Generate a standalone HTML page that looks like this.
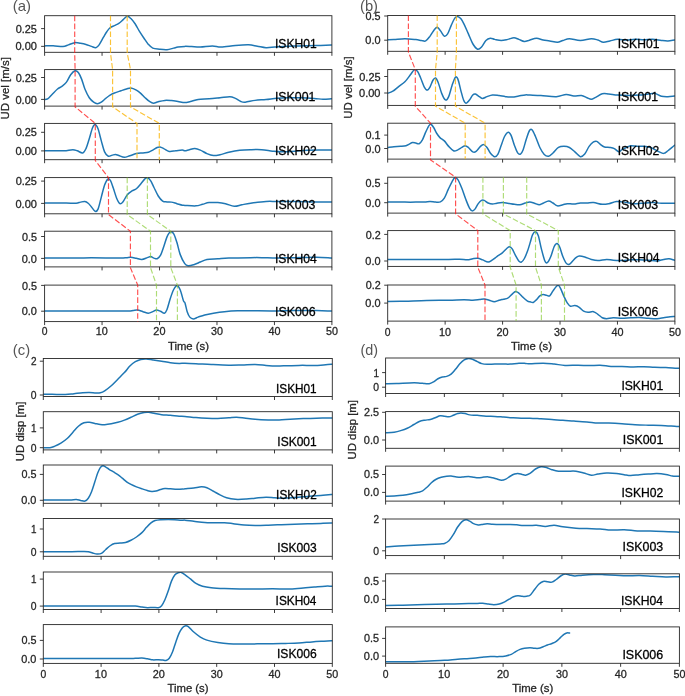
<!DOCTYPE html>
<html><head><meta charset="utf-8"><style>
html,body{margin:0;padding:0;background:#fff;}
body{width:685px;height:696px;overflow:hidden;}
svg{display:block;will-change:transform;}
</style></head><body>
<svg width="685" height="696" viewBox="0 0 685 696">
<rect width="685" height="696" fill="#fff"/>
<clipPath id="ca0"><rect x="44.60" y="15.70" width="287.30" height="36.60"/></clipPath>
<path d="M43.60,45.94C43.73,45.94 42.79,45.98 44.38,45.94C45.97,45.90 50.04,45.61 53.14,45.72C56.24,45.83 60.44,46.75 62.99,46.60C65.55,46.45 66.53,45.51 68.47,44.85C70.41,44.19 72.59,42.92 74.60,42.66C76.61,42.40 78.61,43.02 80.51,43.31C82.41,43.60 84.16,43.90 85.99,44.41C87.81,44.92 89.82,45.83 91.46,46.38C93.10,46.93 94.56,47.95 95.84,47.69C97.12,47.43 97.84,46.60 99.12,44.85C100.40,43.10 102.22,39.37 103.50,37.18C104.78,34.99 105.70,33.28 106.79,31.71C107.89,30.14 108.79,28.79 110.07,27.77C111.35,26.75 112.99,26.31 114.45,25.58C115.91,24.85 117.37,24.38 118.83,23.39C120.29,22.40 121.82,20.83 123.21,19.66C124.60,18.49 125.87,16.56 127.15,16.38C128.43,16.20 129.53,17.29 130.88,18.57C132.23,19.85 133.80,21.85 135.26,24.04C136.72,26.23 138.18,29.34 139.64,31.71C141.10,34.08 142.55,36.16 144.01,38.28C145.47,40.40 146.93,42.77 148.39,44.41C149.85,46.05 150.94,47.33 152.77,48.13C154.60,48.93 156.97,48.97 159.34,49.23C161.71,49.48 164.64,49.84 167.01,49.66C169.38,49.48 171.75,48.57 173.58,48.13C175.41,47.69 176.10,47.33 177.96,47.04C179.82,46.75 182.49,46.45 184.76,46.38C187.03,46.31 188.97,46.49 191.57,46.60C194.16,46.71 196.86,47.15 200.33,47.04C203.80,46.93 208.90,45.94 212.37,45.94C215.84,45.94 217.30,47.11 221.13,47.04C224.96,46.97 230.80,45.87 235.36,45.50C239.92,45.13 244.85,44.74 248.50,44.85C252.15,44.96 254.34,45.69 257.26,46.16C260.18,46.63 263.10,47.54 266.02,47.69C268.94,47.84 271.86,47.26 274.78,47.04C277.70,46.82 279.53,46.56 283.54,46.38C287.56,46.20 293.39,46.09 298.87,45.94C304.35,45.79 310.99,45.64 316.39,45.50C321.79,45.36 328.53,45.14 331.28,45.07C334.03,45.00 332.63,45.07 332.90,45.07" fill="none" stroke="#1f77b4" stroke-width="1.5" stroke-linejoin="round" stroke-linecap="square" clip-path="url(#ca0)"/>
<rect x="44.60" y="15.70" width="287.30" height="36.60" fill="none" stroke="#262626" stroke-width="0.9"/>
<path d="M44.60,52.30v3.5M102.06,52.30v3.5M159.52,52.30v3.5M216.98,52.30v3.5M274.44,52.30v3.5M331.90,52.30v3.5M41.10,28.60h3.5M41.10,46.35h3.5" stroke="#262626" stroke-width="0.9" fill="none"/>
<clipPath id="ca1"><rect x="44.60" y="69.60" width="287.30" height="36.50"/></clipPath>
<path d="M43.60,99.50C43.73,99.50 43.70,99.61 44.38,99.50C45.06,99.39 46.38,99.69 47.66,98.85C48.94,98.01 50.40,96.11 52.04,94.47C53.68,92.83 55.88,90.34 57.52,88.99C59.16,87.64 60.44,87.45 61.90,86.36C63.36,85.27 64.82,84.35 66.28,82.42C67.74,80.49 69.20,76.69 70.66,74.76C72.12,72.83 73.76,71.19 75.04,70.82C76.32,70.45 77.22,71.18 78.32,72.57C79.41,73.96 80.52,76.40 81.61,79.14C82.70,81.88 83.61,85.89 84.89,88.99C86.17,92.09 87.81,95.56 89.27,97.75C90.73,99.94 92.30,101.14 93.65,102.13C95.00,103.11 96.09,103.66 97.37,103.66C98.65,103.66 99.92,103.00 101.31,102.13C102.70,101.25 104.23,99.58 105.69,98.41C107.15,97.24 108.61,96.03 110.07,95.12C111.53,94.21 112.62,93.66 114.45,92.93C116.28,92.20 119.01,91.40 121.02,90.74C123.03,90.08 124.86,89.46 126.50,88.99C128.14,88.52 129.24,87.72 130.88,87.90C132.52,88.08 134.71,89.18 136.35,90.09C137.99,91.00 139.27,92.09 140.73,93.37C142.19,94.65 143.65,96.40 145.11,97.75C146.57,99.10 148.10,100.56 149.49,101.47C150.88,102.38 151.97,103.19 153.43,103.23C154.89,103.27 156.35,102.16 158.25,101.69C160.15,101.22 162.63,100.56 164.82,100.38C167.01,100.20 169.20,100.42 171.39,100.60C173.58,100.78 175.73,101.14 177.96,101.47C180.19,101.80 182.67,102.57 184.76,102.57C186.84,102.57 188.24,101.98 190.47,101.47C192.70,100.96 195.04,99.94 198.14,99.50C201.24,99.06 205.44,99.14 209.09,98.85C212.74,98.56 216.57,98.11 220.04,97.75C223.51,97.39 227.34,96.55 229.89,96.66C232.44,96.77 233.54,97.61 235.36,98.41C237.19,99.21 239.20,100.85 240.84,101.47C242.48,102.09 242.85,102.31 245.22,102.13C247.59,101.95 251.60,100.82 255.07,100.38C258.54,99.94 262.37,99.86 266.02,99.50C269.67,99.14 273.32,98.48 276.97,98.19C280.62,97.90 283.91,97.82 287.92,97.75C291.94,97.68 296.68,97.64 301.06,97.75C305.44,97.86 310.55,98.16 314.20,98.41C317.85,98.66 320.11,99.21 322.96,99.28C325.81,99.35 329.62,98.92 331.28,98.85C332.94,98.78 332.63,98.85 332.90,98.85" fill="none" stroke="#1f77b4" stroke-width="1.5" stroke-linejoin="round" stroke-linecap="square" clip-path="url(#ca1)"/>
<rect x="44.60" y="69.60" width="287.30" height="36.50" fill="none" stroke="#262626" stroke-width="0.9"/>
<path d="M44.60,106.10v3.5M102.06,106.10v3.5M159.52,106.10v3.5M216.98,106.10v3.5M274.44,106.10v3.5M331.90,106.10v3.5M41.10,77.50h3.5M41.10,99.40h3.5" stroke="#262626" stroke-width="0.9" fill="none"/>
<clipPath id="ca2"><rect x="44.60" y="123.40" width="287.30" height="36.30"/></clipPath>
<path d="M43.60,150.75C43.73,150.75 42.79,150.75 44.38,150.75C45.97,150.75 49.86,150.75 53.14,150.75C56.42,150.75 60.81,150.93 64.09,150.75C67.38,150.57 70.66,149.66 72.85,149.66C75.04,149.66 75.59,150.20 77.23,150.75C78.87,151.30 81.24,153.31 82.70,152.94C84.16,152.57 84.89,150.93 85.99,148.56C87.08,146.19 88.18,142.18 89.27,138.71C90.36,135.24 91.56,130.13 92.55,127.76C93.53,125.39 94.27,124.29 95.18,124.47C96.09,124.65 97.01,126.11 98.03,128.85C99.05,131.59 100.22,137.07 101.31,140.90C102.41,144.73 103.43,149.29 104.60,151.85C105.77,154.41 107.04,155.68 108.32,156.23C109.60,156.78 111.06,155.42 112.26,155.13C113.47,154.84 114.45,154.40 115.55,154.47C116.64,154.54 117.37,155.09 118.83,155.57C120.29,156.04 122.48,157.28 124.31,157.32C126.14,157.36 127.77,156.41 129.78,155.79C131.79,155.17 134.16,154.07 136.35,153.60C138.54,153.12 140.91,153.16 142.92,152.94C144.93,152.72 146.75,152.75 148.39,152.28C150.03,151.81 151.31,150.89 152.77,150.09C154.23,149.29 155.94,147.98 157.15,147.47C158.36,146.96 158.91,146.85 160.00,147.03C161.09,147.21 162.19,147.83 163.72,148.56C165.25,149.29 167.19,151.04 169.20,151.41C171.21,151.78 173.58,150.97 175.77,150.75C177.96,150.53 180.80,150.09 182.34,150.09C183.88,150.09 183.83,150.82 185.00,150.75C186.17,150.68 187.74,150.03 189.38,149.66C191.02,149.29 193.02,148.49 194.85,148.56C196.68,148.63 198.32,149.25 200.33,150.09C202.34,150.93 204.71,152.69 206.90,153.60C209.09,154.51 211.28,155.39 213.47,155.57C215.66,155.75 217.48,155.24 220.04,154.69C222.59,154.14 225.52,153.01 228.80,152.28C232.08,151.55 236.09,150.75 239.74,150.31C243.39,149.87 247.04,149.77 250.69,149.66C254.34,149.55 257.99,149.41 261.64,149.66C265.29,149.91 269.30,150.82 272.59,151.19C275.88,151.56 277.70,151.85 281.35,151.85C285.00,151.85 290.11,151.45 294.49,151.19C298.87,150.93 303.25,150.49 307.63,150.31C312.01,150.13 316.83,150.13 320.77,150.09C324.71,150.05 329.26,150.09 331.28,150.09C333.30,150.09 332.63,150.09 332.90,150.09" fill="none" stroke="#1f77b4" stroke-width="1.5" stroke-linejoin="round" stroke-linecap="square" clip-path="url(#ca2)"/>
<rect x="44.60" y="123.40" width="287.30" height="36.30" fill="none" stroke="#262626" stroke-width="0.9"/>
<path d="M44.60,159.70v3.5M102.06,159.70v3.5M159.52,159.70v3.5M216.98,159.70v3.5M274.44,159.70v3.5M331.90,159.70v3.5M41.10,132.30h3.5M41.10,150.90h3.5" stroke="#262626" stroke-width="0.9" fill="none"/>
<clipPath id="ca3"><rect x="44.60" y="177.60" width="287.30" height="36.20"/></clipPath>
<path d="M43.60,203.00C43.73,203.00 42.79,203.00 44.38,203.00C45.97,203.00 49.49,203.00 53.14,203.00C56.79,203.00 62.45,202.96 66.28,203.00C70.11,203.04 73.76,203.37 76.13,203.22C78.50,203.07 79.05,202.41 80.51,202.12C81.97,201.83 83.61,201.29 84.89,201.47C86.17,201.65 87.09,202.31 88.18,203.22C89.28,204.13 90.29,205.59 91.46,206.94C92.63,208.29 94.09,210.95 95.18,211.32C96.28,211.69 97.01,211.50 98.03,209.13C99.05,206.76 100.22,201.11 101.31,197.09C102.41,193.07 103.50,188.03 104.60,185.04C105.69,182.05 106.89,179.86 107.88,179.13C108.86,178.40 109.60,179.13 110.51,180.66C111.42,182.19 112.34,185.41 113.36,188.33C114.38,191.25 115.55,195.62 116.64,198.18C117.73,200.74 118.84,203.11 119.93,203.66C121.03,204.21 122.01,202.93 123.21,201.47C124.41,200.01 125.69,196.65 127.15,194.90C128.61,193.15 130.44,191.98 131.97,190.96C133.50,189.94 134.89,189.94 136.35,188.77C137.81,187.60 139.34,185.56 140.73,183.95C142.12,182.34 143.57,180.15 144.67,179.13C145.76,178.11 146.31,177.56 147.30,177.82C148.29,178.07 149.49,179.09 150.58,180.66C151.68,182.23 152.59,184.67 153.87,187.23C155.15,189.78 156.79,193.69 158.25,195.99C159.71,198.29 161.17,200.04 162.63,201.03C164.09,202.02 165.55,201.73 167.01,201.91C168.47,202.09 169.75,201.83 171.39,202.12C173.03,202.41 175.04,203.15 176.86,203.66C178.69,204.17 180.98,204.90 182.34,205.19C183.70,205.48 182.73,205.30 185.00,205.41C187.27,205.52 193.03,206.03 195.95,205.85C198.87,205.67 200.33,204.86 202.52,204.31C204.71,203.76 206.53,202.85 209.09,202.56C211.65,202.27 215.11,202.38 217.85,202.56C220.59,202.74 222.77,203.04 225.51,203.66C228.25,204.28 231.53,206.10 234.27,206.28C237.01,206.46 239.19,205.26 241.93,204.75C244.67,204.24 246.68,203.77 250.69,203.22C254.70,202.67 261.64,201.76 266.02,201.47C270.40,201.18 272.23,201.47 276.97,201.47C281.72,201.47 287.92,201.40 294.49,201.47C301.06,201.54 310.26,201.84 316.39,201.91C322.52,201.98 328.53,201.91 331.28,201.91C334.03,201.91 332.63,201.91 332.90,201.91" fill="none" stroke="#1f77b4" stroke-width="1.5" stroke-linejoin="round" stroke-linecap="square" clip-path="url(#ca3)"/>
<rect x="44.60" y="177.60" width="287.30" height="36.20" fill="none" stroke="#262626" stroke-width="0.9"/>
<path d="M44.60,213.80v3.5M102.06,213.80v3.5M159.52,213.80v3.5M216.98,213.80v3.5M274.44,213.80v3.5M331.90,213.80v3.5M41.10,181.10h3.5M41.10,203.40h3.5" stroke="#262626" stroke-width="0.9" fill="none"/>
<clipPath id="ca4"><rect x="44.60" y="231.20" width="287.30" height="35.70"/></clipPath>
<path d="M43.60,257.88C43.73,257.88 41.33,257.88 44.38,257.88C47.43,257.88 55.33,257.88 61.90,257.88C68.47,257.88 76.50,257.88 83.80,257.88C91.10,257.88 99.49,257.85 105.69,257.88C111.89,257.91 117.55,258.13 121.02,258.09C124.49,258.05 124.86,257.81 126.50,257.66C128.14,257.52 129.24,257.11 130.88,257.22C132.52,257.33 134.53,257.94 136.35,258.31C138.17,258.68 140.00,259.52 141.82,259.41C143.64,259.30 145.84,258.14 147.30,257.66C148.76,257.19 149.49,256.49 150.58,256.56C151.68,256.63 152.78,257.72 153.87,258.09C154.97,258.45 156.06,259.19 157.15,258.75C158.25,258.31 159.34,257.48 160.44,255.47C161.53,253.46 162.62,249.81 163.72,246.71C164.81,243.61 165.91,239.33 167.01,236.85C168.10,234.37 169.19,232.37 170.29,231.82C171.38,231.27 172.49,231.82 173.58,233.57C174.68,235.32 175.77,238.86 176.86,242.33C177.96,245.80 178.83,250.81 180.15,254.37C181.47,257.93 183.41,261.78 184.76,263.68C186.11,265.58 186.78,265.60 188.28,265.76C189.78,265.92 191.75,265.28 193.76,264.66C195.77,264.04 198.14,262.92 200.33,262.04C202.52,261.17 203.98,259.96 206.90,259.41C209.82,258.86 214.20,258.97 217.85,258.75C221.50,258.53 223.33,258.27 228.80,258.09C234.27,257.91 245.22,257.73 250.69,257.66C256.16,257.59 257.26,257.59 261.64,257.66C266.02,257.73 271.50,258.09 276.97,258.09C282.45,258.09 287.92,257.81 294.49,257.66C301.06,257.52 310.26,257.15 316.39,257.22C322.52,257.29 328.53,257.94 331.28,258.09C334.03,258.23 332.63,258.09 332.90,258.09" fill="none" stroke="#1f77b4" stroke-width="1.5" stroke-linejoin="round" stroke-linecap="square" clip-path="url(#ca4)"/>
<rect x="44.60" y="231.20" width="287.30" height="35.70" fill="none" stroke="#262626" stroke-width="0.9"/>
<path d="M44.60,266.90v3.5M102.06,266.90v3.5M159.52,266.90v3.5M216.98,266.90v3.5M274.44,266.90v3.5M331.90,266.90v3.5M41.10,236.50h3.5M41.10,258.40h3.5" stroke="#262626" stroke-width="0.9" fill="none"/>
<clipPath id="ca5"><rect x="44.60" y="285.10" width="287.30" height="36.50"/></clipPath>
<path d="M43.60,311.00C43.73,311.00 41.33,311.00 44.38,311.00C47.43,311.00 55.33,311.00 61.90,311.00C68.47,311.00 76.50,311.00 83.80,311.00C91.10,311.00 98.39,311.00 105.69,311.00C112.99,311.00 123.03,311.07 127.59,311.00C132.15,310.93 131.43,310.71 133.07,310.56C134.71,310.41 135.81,309.94 137.45,310.12C139.09,310.30 141.10,311.15 142.92,311.66C144.74,312.17 146.75,313.19 148.39,313.19C150.03,313.19 151.42,312.21 152.77,311.66C154.12,311.11 155.22,309.98 156.50,309.91C157.78,309.84 159.13,310.67 160.44,311.22C161.75,311.77 163.28,313.48 164.38,313.19C165.47,312.90 166.02,311.92 167.01,309.47C168.00,307.03 169.19,301.81 170.29,298.52C171.38,295.23 172.49,291.88 173.58,289.76C174.68,287.64 175.77,285.82 176.86,285.82C177.96,285.82 179.06,287.28 180.15,289.76C181.25,292.24 182.62,298.52 183.43,300.71C184.24,302.90 184.37,301.07 185.00,302.90C185.63,304.72 186.39,309.29 187.19,311.66C187.99,314.03 188.80,315.93 189.82,317.13C190.84,318.33 191.93,318.88 193.32,318.88C194.71,318.88 196.24,317.79 198.14,317.13C200.04,316.47 202.16,315.60 204.71,314.94C207.27,314.28 210.19,313.74 213.47,313.19C216.75,312.64 220.41,312.06 224.42,311.66C228.43,311.26 233.17,310.93 237.55,310.78C241.93,310.63 244.85,310.74 250.69,310.78C256.53,310.82 265.29,311.04 272.59,311.00C279.89,310.96 287.19,310.63 294.49,310.56C301.79,310.49 310.26,310.49 316.39,310.56C322.52,310.63 328.53,310.93 331.28,311.00C334.03,311.07 332.63,311.00 332.90,311.00" fill="none" stroke="#1f77b4" stroke-width="1.5" stroke-linejoin="round" stroke-linecap="square" clip-path="url(#ca5)"/>
<rect x="44.60" y="285.10" width="287.30" height="36.50" fill="none" stroke="#262626" stroke-width="0.9"/>
<path d="M44.60,321.60v3.5M102.06,321.60v3.5M159.52,321.60v3.5M216.98,321.60v3.5M274.44,321.60v3.5M331.90,321.60v3.5M41.10,285.40h3.5M41.10,311.20h3.5" stroke="#262626" stroke-width="0.9" fill="none"/>
<clipPath id="cb0"><rect x="387.70" y="15.50" width="287.20" height="35.80"/></clipPath>
<path d="M386.70,39.81C386.81,39.81 386.17,39.85 387.38,39.81C388.59,39.77 391.03,39.77 393.95,39.59C396.87,39.41 401.25,38.72 404.90,38.72C408.55,38.72 413.11,39.30 415.85,39.59C418.59,39.88 419.68,40.25 421.32,40.47C422.96,40.69 424.24,41.64 425.70,40.91C427.16,40.18 428.62,37.99 430.08,36.09C431.54,34.19 433.25,30.98 434.46,29.52C435.66,28.06 436.32,27.15 437.31,27.33C438.30,27.51 439.20,29.15 440.37,30.61C441.54,32.07 443.11,35.54 444.31,36.09C445.51,36.64 446.43,35.73 447.60,33.90C448.77,32.07 450.12,27.77 451.32,25.14C452.52,22.51 453.80,19.59 454.82,18.13C455.84,16.67 456.46,16.31 457.45,16.38C458.44,16.45 459.64,17.29 460.74,18.57C461.84,19.85 462.74,21.48 464.02,24.04C465.30,26.59 466.94,30.61 468.40,33.90C469.86,37.19 471.25,41.20 472.78,43.75C474.31,46.30 476.14,48.68 477.60,49.23C479.06,49.78 480.15,48.50 481.54,47.04C482.93,45.58 484.46,41.93 485.92,40.47C487.38,39.01 488.84,38.46 490.30,38.28C491.76,38.10 492.86,39.00 494.68,39.37C496.50,39.73 499.06,40.47 501.25,40.47C503.44,40.47 505.70,39.81 507.82,39.37C509.94,38.93 512.12,37.84 513.95,37.84C515.78,37.84 517.05,38.75 518.77,39.37C520.49,39.99 522.60,41.38 524.24,41.56C525.88,41.74 527.66,40.73 528.62,40.47C529.58,40.21 528.67,40.40 530.00,40.03C531.33,39.66 534.38,38.28 536.57,38.28C538.76,38.28 540.95,39.59 543.14,40.03C545.33,40.47 547.34,40.54 549.71,40.91C552.08,41.27 555.18,42.29 557.37,42.22C559.56,42.15 560.84,41.05 562.85,40.47C564.86,39.89 566.50,38.72 569.42,38.72C572.34,38.72 576.71,40.47 580.36,40.47C584.01,40.47 588.39,38.79 591.31,38.72C594.23,38.65 595.87,39.45 597.88,40.03C599.89,40.61 601.35,42.07 603.36,42.22C605.37,42.37 607.56,41.38 609.93,40.91C612.30,40.43 614.85,39.52 617.59,39.37C620.33,39.22 623.43,40.03 626.35,40.03C629.27,40.03 632.19,39.41 635.11,39.37C638.03,39.33 640.95,39.81 643.87,39.81C646.79,39.81 649.71,39.26 652.63,39.37C655.55,39.48 658.84,40.21 661.39,40.47C663.94,40.73 665.77,40.98 667.96,40.91C670.15,40.84 673.21,40.18 674.53,40.03C675.85,39.88 675.67,40.03 675.90,40.03" fill="none" stroke="#1f77b4" stroke-width="1.5" stroke-linejoin="round" stroke-linecap="square" clip-path="url(#cb0)"/>
<rect x="387.70" y="15.50" width="287.20" height="35.80" fill="none" stroke="#262626" stroke-width="0.9"/>
<path d="M387.70,51.30v3.5M445.14,51.30v3.5M502.58,51.30v3.5M560.02,51.30v3.5M617.46,51.30v3.5M674.90,51.30v3.5M384.20,16.00h3.5M384.20,40.20h3.5" stroke="#262626" stroke-width="0.9" fill="none"/>
<clipPath id="cb1"><rect x="387.70" y="69.60" width="287.20" height="35.80"/></clipPath>
<path d="M386.70,93.37C386.81,93.37 386.36,93.73 387.38,93.37C388.40,93.01 391.03,92.28 392.85,91.18C394.68,90.09 396.32,88.37 398.33,86.80C400.34,85.23 402.89,83.78 404.90,81.77C406.91,79.76 408.80,76.73 410.37,74.76C411.94,72.79 413.11,70.49 414.31,69.94C415.51,69.39 416.54,70.12 417.60,71.47C418.66,72.82 419.57,75.49 420.66,78.04C421.75,80.59 423.08,84.79 424.17,86.80C425.26,88.81 426.25,90.09 427.23,90.09C428.22,90.09 429.13,88.44 430.08,86.80C431.03,85.16 432.02,81.69 432.93,80.23C433.84,78.77 434.68,77.68 435.55,78.04C436.43,78.41 437.16,79.87 438.18,82.42C439.20,84.97 440.49,90.45 441.69,93.37C442.89,96.29 444.24,99.39 445.41,99.94C446.58,100.49 447.60,99.03 448.69,96.66C449.78,94.29 450.88,88.92 451.98,85.71C453.08,82.50 454.27,78.48 455.26,77.39C456.25,76.30 456.98,77.02 457.89,79.14C458.80,81.26 459.79,86.62 460.74,90.09C461.69,93.56 462.67,97.75 463.58,99.94C464.49,102.13 465.22,103.23 466.21,103.23C467.20,103.23 468.40,101.33 469.50,99.94C470.60,98.55 471.79,95.89 472.78,94.91C473.76,93.92 474.31,93.74 475.41,94.03C476.51,94.32 478.15,95.93 479.35,96.66C480.56,97.39 481.36,98.41 482.64,98.41C483.92,98.41 485.37,97.24 487.01,96.66C488.65,96.08 490.48,95.09 492.49,94.91C494.50,94.73 496.87,95.27 499.06,95.56C501.25,95.85 503.44,96.41 505.63,96.66C507.82,96.91 510.01,97.20 512.20,97.09C514.39,96.98 516.58,96.36 518.77,96.00C520.96,95.64 523.47,95.06 525.34,94.91C527.21,94.76 527.40,95.01 530.00,95.12C532.60,95.23 536.57,95.30 540.95,95.56C545.33,95.82 552.08,96.84 556.28,96.66C560.48,96.48 563.21,94.58 566.13,94.47C569.05,94.36 571.24,95.82 573.80,96.00C576.36,96.18 579.27,95.27 581.46,95.56C583.65,95.85 585.29,97.13 586.93,97.75C588.57,98.37 589.85,99.35 591.31,99.28C592.77,99.21 593.87,98.22 595.69,97.31C597.52,96.40 600.07,94.36 602.26,93.81C604.45,93.26 606.28,93.81 608.83,94.03C611.38,94.25 614.31,94.87 617.59,95.12C620.88,95.38 624.89,95.56 628.54,95.56C632.19,95.56 636.21,95.38 639.49,95.12C642.77,94.87 645.69,94.32 648.25,94.03C650.81,93.74 652.63,93.01 654.82,93.37C657.01,93.73 659.20,95.67 661.39,96.22C663.58,96.77 665.77,96.70 667.96,96.66C670.15,96.62 673.21,96.11 674.53,96.00C675.85,95.89 675.67,96.00 675.90,96.00" fill="none" stroke="#1f77b4" stroke-width="1.5" stroke-linejoin="round" stroke-linecap="square" clip-path="url(#cb1)"/>
<rect x="387.70" y="69.60" width="287.20" height="35.80" fill="none" stroke="#262626" stroke-width="0.9"/>
<path d="M387.70,105.40v3.5M445.14,105.40v3.5M502.58,105.40v3.5M560.02,105.40v3.5M617.46,105.40v3.5M674.90,105.40v3.5M384.20,76.50h3.5M384.20,93.00h3.5" stroke="#262626" stroke-width="0.9" fill="none"/>
<clipPath id="cb2"><rect x="387.70" y="123.20" width="287.20" height="35.90"/></clipPath>
<path d="M386.70,147.47C386.81,147.47 386.17,147.58 387.38,147.47C388.59,147.36 391.76,146.99 393.95,146.81C396.14,146.63 398.51,146.55 400.52,146.37C402.53,146.19 404.53,146.09 405.99,145.72C407.45,145.35 408.18,144.73 409.28,144.18C410.38,143.63 411.46,142.61 412.56,142.43C413.66,142.25 414.75,142.87 415.85,143.09C416.95,143.31 418.03,144.29 419.13,143.74C420.23,143.19 421.33,141.73 422.42,139.80C423.51,137.87 424.61,134.51 425.70,132.14C426.79,129.77 428.08,126.85 428.99,125.57C429.90,124.29 430.38,124.10 431.18,124.47C431.98,124.84 432.89,126.30 433.80,127.76C434.71,129.22 435.63,131.59 436.65,133.23C437.67,134.87 438.65,136.33 439.93,137.61C441.21,138.89 442.85,139.44 444.31,140.90C445.77,142.36 447.16,144.73 448.69,146.37C450.22,148.01 452.05,150.13 453.51,150.75C454.97,151.37 456.06,150.64 457.45,150.09C458.84,149.54 460.55,148.20 461.83,147.47C463.11,146.74 464.02,145.72 465.12,145.72C466.22,145.72 467.12,146.45 468.40,147.47C469.68,148.49 471.50,151.19 472.78,151.85C474.06,152.51 474.79,152.32 476.07,151.41C477.35,150.50 479.17,147.50 480.45,146.37C481.73,145.24 482.64,144.44 483.73,144.62C484.82,144.80 485.91,146.08 487.01,147.47C488.11,148.86 489.02,151.41 490.30,152.94C491.58,154.47 493.40,156.48 494.68,156.66C495.96,156.84 496.87,155.94 497.96,154.04C499.05,152.14 500.15,148.20 501.25,145.28C502.35,142.36 503.36,138.71 504.53,136.52C505.70,134.33 507.16,132.32 508.26,132.14C509.36,131.96 510.08,133.23 511.10,135.42C512.12,137.61 513.29,142.36 514.39,145.28C515.49,148.20 516.65,151.48 517.67,152.94C518.69,154.40 519.61,154.59 520.52,154.04C521.43,153.49 522.16,152.22 523.15,149.66C524.13,147.10 525.35,141.94 526.43,138.71C527.51,135.48 528.68,131.74 529.64,130.28C530.60,128.82 531.22,128.91 532.19,129.95C533.16,130.99 534.19,133.60 535.47,136.52C536.75,139.44 538.39,144.48 539.85,147.47C541.31,150.46 542.77,153.01 544.23,154.47C545.69,155.93 547.15,156.48 548.61,156.23C550.07,155.97 551.35,154.40 552.99,152.94C554.63,151.48 556.64,148.56 558.47,147.47C560.30,146.38 562.12,146.37 563.94,146.37C565.77,146.37 567.60,146.56 569.42,147.47C571.24,148.38 573.07,150.32 574.89,151.85C576.71,153.38 578.72,156.29 580.36,156.66C582.00,157.03 583.28,155.75 584.74,154.04C586.20,152.32 587.66,148.38 589.12,146.37C590.58,144.36 592.22,142.83 593.50,141.99C594.78,141.15 595.69,140.97 596.79,141.34C597.88,141.71 598.79,143.23 600.07,144.18C601.35,145.13 602.81,146.48 604.45,147.03C606.09,147.58 608.29,147.22 609.93,147.47C611.57,147.72 612.85,147.83 614.31,148.56C615.77,149.29 617.41,151.67 618.69,151.85C619.97,152.03 620.69,150.39 621.97,149.66C623.25,148.93 624.89,148.13 626.35,147.47C627.81,146.81 628.90,145.90 630.73,145.72C632.56,145.54 635.11,146.26 637.30,146.37C639.49,146.48 641.68,146.19 643.87,146.37C646.06,146.55 648.62,146.92 650.44,147.47C652.27,148.02 653.36,148.93 654.82,149.66C656.28,150.39 657.74,151.23 659.20,151.85C660.66,152.47 662.12,153.56 663.58,153.38C665.04,153.20 666.13,152.10 667.96,150.75C669.79,149.40 673.21,146.19 674.53,145.28C675.85,144.37 675.67,145.28 675.90,145.28" fill="none" stroke="#1f77b4" stroke-width="1.5" stroke-linejoin="round" stroke-linecap="square" clip-path="url(#cb2)"/>
<rect x="387.70" y="123.20" width="287.20" height="35.90" fill="none" stroke="#262626" stroke-width="0.9"/>
<path d="M387.70,159.10v3.5M445.14,159.10v3.5M502.58,159.10v3.5M560.02,159.10v3.5M617.46,159.10v3.5M674.90,159.10v3.5M384.20,135.10h3.5M384.20,148.50h3.5" stroke="#262626" stroke-width="0.9" fill="none"/>
<clipPath id="cb3"><rect x="387.70" y="177.20" width="287.20" height="35.90"/></clipPath>
<path d="M386.70,202.12C386.81,202.12 385.81,202.16 387.38,202.12C388.95,202.09 393.22,201.91 396.14,201.91C399.06,201.91 401.61,202.09 404.90,202.12C408.19,202.16 412.56,202.16 415.85,202.12C419.14,202.09 422.24,202.02 424.61,201.91C426.98,201.80 428.26,201.44 430.08,201.47C431.90,201.50 433.84,202.05 435.55,202.12C437.26,202.19 438.91,202.57 440.37,201.91C441.83,201.25 443.00,200.26 444.31,198.18C445.62,196.10 446.98,192.16 448.26,189.42C449.54,186.68 450.89,183.69 451.98,181.76C453.07,179.83 453.83,178.19 454.82,177.82C455.81,177.45 456.72,177.82 457.89,179.57C459.06,181.32 460.52,185.05 461.83,188.33C463.14,191.62 464.49,196.00 465.77,199.28C467.05,202.56 468.40,206.11 469.50,208.04C470.60,209.97 471.43,210.70 472.34,210.88C473.25,211.06 473.98,210.33 474.97,209.13C475.96,207.93 477.16,205.12 478.26,203.66C479.36,202.20 480.56,200.92 481.54,200.37C482.53,199.82 483.08,199.93 484.17,200.37C485.26,200.81 486.72,202.38 488.11,203.00C489.50,203.62 491.03,204.05 492.49,204.09C493.95,204.13 495.23,203.47 496.87,203.22C498.51,202.97 500.51,202.56 502.34,202.56C504.16,202.56 505.81,202.93 507.82,203.22C509.83,203.51 512.38,204.06 514.39,204.31C516.40,204.56 518.03,204.97 519.86,204.75C521.69,204.53 523.67,203.46 525.34,203.00C527.01,202.54 528.35,201.97 529.86,202.01C531.37,202.05 532.82,202.76 534.38,203.22C535.94,203.68 537.74,204.75 539.20,204.75C540.66,204.75 541.57,203.84 543.14,203.22C544.71,202.60 546.97,201.07 548.61,201.03C550.25,200.99 551.53,202.20 552.99,203.00C554.45,203.80 555.73,205.56 557.37,205.85C559.01,206.14 561.21,205.12 562.85,204.75C564.49,204.38 565.40,203.77 567.23,203.66C569.06,203.55 571.61,204.20 573.80,204.09C575.99,203.98 578.17,203.18 580.36,203.00C582.55,202.82 584.74,203.07 586.93,203.00C589.12,202.93 590.94,202.34 593.50,202.56C596.06,202.78 599.70,204.13 602.26,204.31C604.82,204.49 606.46,204.13 608.83,203.66C611.20,203.19 613.95,201.73 616.50,201.47C619.05,201.21 621.42,201.75 624.16,202.12C626.90,202.49 630.00,203.48 632.92,203.66C635.84,203.84 638.39,203.40 641.68,203.22C644.96,203.04 649.35,202.56 652.63,202.56C655.91,202.56 657.74,203.11 661.39,203.22C665.04,203.33 672.11,203.22 674.53,203.22C676.95,203.22 675.67,203.22 675.90,203.22" fill="none" stroke="#1f77b4" stroke-width="1.5" stroke-linejoin="round" stroke-linecap="square" clip-path="url(#cb3)"/>
<rect x="387.70" y="177.20" width="287.20" height="35.90" fill="none" stroke="#262626" stroke-width="0.9"/>
<path d="M387.70,213.10v3.5M445.14,213.10v3.5M502.58,213.10v3.5M560.02,213.10v3.5M617.46,213.10v3.5M674.90,213.10v3.5M384.20,183.30h3.5M384.20,202.70h3.5" stroke="#262626" stroke-width="0.9" fill="none"/>
<clipPath id="cb4"><rect x="387.70" y="230.60" width="287.20" height="35.80"/></clipPath>
<path d="M386.70,259.41C386.81,259.41 384.35,259.41 387.38,259.41C390.41,259.41 398.33,259.41 404.90,259.41C411.47,259.41 419.50,259.41 426.80,259.41C434.10,259.41 443.22,259.45 448.69,259.41C454.16,259.37 456.54,259.12 459.64,259.19C462.74,259.26 465.12,259.92 467.31,259.85C469.50,259.78 471.06,259.01 472.78,258.75C474.50,258.49 475.96,258.13 477.60,258.31C479.24,258.49 480.89,259.23 482.64,259.85C484.39,260.47 486.47,262.04 488.11,262.04C489.75,262.04 491.03,260.76 492.49,259.85C493.95,258.94 495.23,257.73 496.87,256.56C498.51,255.39 500.70,254.19 502.34,252.84C503.98,251.49 505.52,249.48 506.72,248.46C507.93,247.44 508.66,246.64 509.57,246.71C510.48,246.78 511.22,247.44 512.20,248.90C513.19,250.36 514.38,253.46 515.48,255.47C516.58,257.48 517.78,259.84 518.77,260.94C519.75,262.04 520.48,262.41 521.39,262.04C522.30,261.68 523.22,260.57 524.24,258.75C525.26,256.93 526.56,253.74 527.53,251.09C528.50,248.44 529.23,245.62 530.08,242.88C530.93,240.14 531.73,236.50 532.63,234.66C533.53,232.82 534.52,231.64 535.47,231.82C536.42,232.00 537.33,232.91 538.32,235.76C539.31,238.61 540.29,244.70 541.39,248.90C542.49,253.10 543.87,258.68 544.89,260.94C545.91,263.20 546.53,263.20 547.52,262.47C548.50,261.74 549.70,259.19 550.80,256.56C551.89,253.93 553.07,248.90 554.09,246.71C555.11,244.52 556.02,243.42 556.93,243.42C557.84,243.42 558.57,244.52 559.56,246.71C560.55,248.90 561.75,253.82 562.85,256.56C563.95,259.30 565.03,261.85 566.13,263.13C567.23,264.41 568.32,264.60 569.42,264.23C570.51,263.87 571.61,262.03 572.70,260.94C573.80,259.85 574.89,258.46 575.99,257.66C577.09,256.86 577.81,256.23 579.27,256.12C580.73,256.01 582.73,256.45 584.74,257.00C586.75,257.55 589.12,258.83 591.31,259.41C593.50,259.99 595.33,260.50 597.88,260.50C600.43,260.50 604.09,259.45 606.64,259.41C609.19,259.37 610.65,260.10 613.21,260.28C615.77,260.46 619.05,260.57 621.97,260.50C624.89,260.43 627.81,259.96 630.73,259.85C633.65,259.74 636.57,259.78 639.49,259.85C642.41,259.92 645.33,260.10 648.25,260.28C651.17,260.46 654.45,261.08 657.01,260.94C659.57,260.80 661.57,259.78 663.58,259.41C665.59,259.05 667.22,258.61 669.05,258.75C670.88,258.89 673.39,260.02 674.53,260.28C675.67,260.53 675.67,260.28 675.90,260.28" fill="none" stroke="#1f77b4" stroke-width="1.5" stroke-linejoin="round" stroke-linecap="square" clip-path="url(#cb4)"/>
<rect x="387.70" y="230.60" width="287.20" height="35.80" fill="none" stroke="#262626" stroke-width="0.9"/>
<path d="M387.70,266.40v3.5M445.14,266.40v3.5M502.58,266.40v3.5M560.02,266.40v3.5M617.46,266.40v3.5M674.90,266.40v3.5M384.20,234.40h3.5M384.20,261.00h3.5" stroke="#262626" stroke-width="0.9" fill="none"/>
<clipPath id="cb5"><rect x="387.70" y="285.00" width="287.20" height="36.10"/></clipPath>
<path d="M386.70,301.58C386.81,301.58 384.35,301.65 387.38,301.58C390.41,301.51 398.33,301.33 404.90,301.15C411.47,300.97 419.50,300.64 426.80,300.49C434.10,300.34 442.49,300.38 448.69,300.27C454.89,300.16 460.00,299.83 464.02,299.83C468.03,299.83 470.22,300.31 472.78,300.27C475.33,300.23 477.45,299.83 479.35,299.61C481.25,299.39 482.53,298.85 484.17,298.96C485.81,299.07 487.52,299.80 489.20,300.27C490.88,300.74 492.60,301.80 494.24,301.80C495.88,301.80 497.53,300.71 499.06,300.27C500.59,299.83 501.98,299.55 503.44,299.18C504.90,298.81 506.36,298.92 507.82,298.08C509.28,297.24 510.92,295.24 512.20,294.14C513.48,293.04 514.38,291.69 515.48,291.51C516.58,291.33 517.49,292.06 518.77,293.04C520.05,294.03 521.69,296.07 523.15,297.42C524.61,298.77 526.39,300.42 527.53,301.15C528.67,301.88 529.04,301.58 530.00,301.80C530.96,302.02 532.18,302.82 533.28,302.46C534.38,302.09 535.48,300.71 536.57,299.61C537.67,298.51 538.75,296.73 539.85,295.89C540.95,295.05 542.04,294.69 543.14,294.58C544.24,294.47 545.32,295.01 546.42,295.23C547.51,295.45 548.62,296.62 549.71,295.89C550.81,295.16 551.89,292.42 552.99,290.85C554.09,289.28 555.37,287.38 556.28,286.47C557.19,285.56 557.74,285.01 558.47,285.38C559.20,285.75 559.75,286.84 560.66,288.66C561.57,290.49 562.85,293.96 563.94,296.33C565.04,298.70 566.13,301.26 567.23,302.90C568.33,304.54 569.23,305.74 570.51,306.18C571.79,306.62 573.43,305.35 574.89,305.53C576.35,305.71 577.81,306.33 579.27,307.28C580.73,308.23 582.19,310.38 583.65,311.22C585.11,312.06 586.39,312.24 588.03,312.31C589.67,312.38 591.86,311.33 593.50,311.66C595.14,311.99 596.42,313.26 597.88,314.28C599.34,315.30 600.80,317.06 602.26,317.79C603.72,318.52 604.81,318.66 606.64,318.66C608.47,318.66 610.65,317.86 613.21,317.79C615.77,317.72 619.05,318.23 621.97,318.23C624.89,318.23 627.81,317.90 630.73,317.79C633.65,317.68 636.57,317.50 639.49,317.57C642.41,317.64 645.33,318.05 648.25,318.23C651.17,318.41 654.45,318.73 657.01,318.66C659.57,318.59 661.39,318.12 663.58,317.79C665.77,317.46 668.33,316.91 670.15,316.69C671.97,316.47 673.57,316.51 674.53,316.47C675.49,316.43 675.67,316.47 675.90,316.47" fill="none" stroke="#1f77b4" stroke-width="1.5" stroke-linejoin="round" stroke-linecap="square" clip-path="url(#cb5)"/>
<rect x="387.70" y="285.00" width="287.20" height="36.10" fill="none" stroke="#262626" stroke-width="0.9"/>
<path d="M387.70,321.10v3.5M445.14,321.10v3.5M502.58,321.10v3.5M560.02,321.10v3.5M617.46,321.10v3.5M674.90,321.10v3.5M384.20,285.20h3.5M384.20,303.10h3.5" stroke="#262626" stroke-width="0.9" fill="none"/>
<clipPath id="cc0"><rect x="43.30" y="358.50" width="289.00" height="38.00"/></clipPath>
<path d="M42.30,394.29C42.48,394.29 41.74,394.29 43.38,394.29C45.02,394.29 48.49,394.25 52.14,394.29C55.79,394.33 61.63,394.62 65.28,394.51C68.93,394.40 71.12,393.93 74.04,393.64C76.96,393.35 80.25,392.94 82.80,392.76C85.35,392.58 87.17,392.50 89.36,392.54C91.55,392.58 94.11,392.94 95.93,392.98C97.76,393.02 98.85,393.12 100.31,392.76C101.77,392.39 102.86,391.96 104.69,390.79C106.52,389.62 109.07,387.69 111.26,385.75C113.45,383.81 115.64,381.37 117.83,379.18C120.02,376.99 122.39,374.80 124.40,372.61C126.41,370.42 128.06,367.87 129.88,366.04C131.70,364.22 133.53,362.75 135.35,361.66C137.17,360.57 139.00,359.91 140.82,359.47C142.64,359.03 144.29,358.97 146.30,359.04C148.31,359.11 150.31,359.55 152.87,359.91C155.43,360.28 158.71,360.75 161.63,361.23C164.55,361.71 167.47,362.39 170.39,362.76C173.31,363.12 176.72,363.35 179.15,363.42C181.59,363.49 182.20,363.16 185.00,363.20C187.80,363.24 191.57,363.42 195.95,363.64C200.33,363.86 205.81,364.25 211.28,364.51C216.75,364.76 223.69,365.10 228.80,365.17C233.91,365.24 237.55,365.06 241.93,364.95C246.31,364.84 251.06,364.44 255.07,364.51C259.08,364.58 262.74,365.13 266.02,365.39C269.30,365.64 271.86,365.97 274.78,366.04C277.70,366.11 279.53,365.93 283.54,365.82C287.56,365.71 294.12,365.46 298.87,365.39C303.62,365.32 308.36,365.43 312.01,365.39C315.66,365.35 317.56,365.35 320.77,365.17C323.98,364.99 329.19,364.44 331.28,364.29C333.37,364.14 332.96,364.29 333.30,364.29" fill="none" stroke="#1f77b4" stroke-width="1.5" stroke-linejoin="round" stroke-linecap="square" clip-path="url(#cc0)"/>
<rect x="43.30" y="358.50" width="289.00" height="38.00" fill="none" stroke="#262626" stroke-width="0.9"/>
<path d="M43.30,396.50v3.5M101.10,396.50v3.5M158.90,396.50v3.5M216.70,396.50v3.5M274.50,396.50v3.5M332.30,396.50v3.5M39.80,361.20h3.5M39.80,395.00h3.5" stroke="#262626" stroke-width="0.9" fill="none"/>
<clipPath id="cc1"><rect x="43.30" y="411.70" width="289.00" height="38.20"/></clipPath>
<path d="M42.30,447.73C42.48,447.73 42.11,447.73 43.38,447.73C44.66,447.73 48.12,447.95 49.95,447.73C51.78,447.51 52.50,447.19 54.33,446.42C56.16,445.65 58.71,444.48 60.90,443.13C63.09,441.78 65.46,440.13 67.47,438.31C69.48,436.49 71.11,434.19 72.94,432.18C74.77,430.17 76.59,427.84 78.42,426.27C80.25,424.70 82.07,423.43 83.89,422.77C85.71,422.11 87.53,422.22 89.36,422.33C91.19,422.44 93.02,423.06 94.84,423.42C96.67,423.79 98.67,424.30 100.31,424.52C101.95,424.74 102.86,424.85 104.69,424.74C106.52,424.63 109.07,424.26 111.26,423.86C113.45,423.46 115.64,422.95 117.83,422.33C120.02,421.71 122.21,420.98 124.40,420.14C126.59,419.30 128.78,418.28 130.97,417.29C133.16,416.31 135.35,415.03 137.54,414.23C139.73,413.43 142.29,412.80 144.11,412.47C145.94,412.14 146.67,412.08 148.49,412.26C150.31,412.44 152.87,413.17 155.06,413.57C157.25,413.97 159.07,414.37 161.63,414.66C164.19,414.95 167.47,415.06 170.39,415.32C173.31,415.58 176.72,416.02 179.15,416.20C181.59,416.38 182.20,416.20 185.00,416.42C187.80,416.64 192.30,417.22 195.95,417.51C199.60,417.80 203.25,418.02 206.90,418.17C210.55,418.32 214.20,418.46 217.85,418.39C221.50,418.32 225.70,417.91 228.80,417.73C231.90,417.55 233.91,417.25 236.46,417.29C239.01,417.33 241.02,417.62 244.12,417.95C247.22,418.28 251.06,418.93 255.07,419.26C259.08,419.59 264.19,419.81 268.21,419.92C272.22,420.03 275.51,420.03 279.16,419.92C282.81,419.81 286.10,419.48 290.11,419.26C294.12,419.04 298.87,418.79 303.25,418.61C307.63,418.43 311.72,418.28 316.39,418.17C321.06,418.06 328.46,417.99 331.28,417.95C334.10,417.91 332.96,417.95 333.30,417.95" fill="none" stroke="#1f77b4" stroke-width="1.5" stroke-linejoin="round" stroke-linecap="square" clip-path="url(#cc1)"/>
<rect x="43.30" y="411.70" width="289.00" height="38.20" fill="none" stroke="#262626" stroke-width="0.9"/>
<path d="M43.30,449.90v3.5M101.10,449.90v3.5M158.90,449.90v3.5M216.70,449.90v3.5M274.50,449.90v3.5M332.30,449.90v3.5M39.80,427.90h3.5M39.80,447.70h3.5" stroke="#262626" stroke-width="0.9" fill="none"/>
<clipPath id="cc2"><rect x="43.30" y="465.00" width="289.00" height="38.30"/></clipPath>
<path d="M42.30,499.98C42.48,499.98 41.01,499.98 43.38,499.98C45.75,499.98 52.14,499.98 56.52,499.98C60.90,499.98 66.38,500.05 69.66,499.98C72.94,499.91 74.41,499.47 76.23,499.54C78.06,499.61 79.15,500.17 80.61,500.42C82.07,500.68 83.71,501.44 84.99,501.07C86.27,500.70 87.18,499.80 88.27,498.23C89.36,496.66 90.45,494.40 91.55,491.66C92.64,488.92 93.82,484.90 94.84,481.80C95.86,478.70 96.78,475.41 97.69,473.04C98.60,470.67 99.44,468.77 100.31,467.57C101.19,466.37 102.03,465.89 102.94,465.82C103.85,465.75 104.77,466.55 105.79,467.13C106.81,467.71 107.79,468.52 109.07,469.32C110.35,470.12 111.99,471.07 113.45,471.95C114.91,472.83 116.37,473.56 117.83,474.58C119.29,475.60 120.75,476.88 122.21,478.08C123.67,479.28 125.13,480.74 126.59,481.80C128.05,482.86 129.33,483.59 130.97,484.43C132.61,485.27 134.62,486.11 136.45,486.84C138.27,487.57 140.10,488.19 141.92,488.81C143.74,489.43 145.75,490.12 147.39,490.56C149.03,491.00 150.31,491.37 151.77,491.44C153.23,491.51 154.69,491.33 156.15,491.00C157.61,490.67 159.07,489.87 160.53,489.47C161.99,489.07 163.27,488.70 164.91,488.59C166.55,488.48 168.38,488.70 170.39,488.81C172.40,488.92 174.77,489.21 176.96,489.25C179.15,489.29 182.19,489.10 183.53,489.03C184.87,488.96 183.30,488.99 185.00,488.81C186.70,488.63 191.02,488.26 193.76,487.93C196.50,487.60 199.23,486.88 201.42,486.84C203.61,486.80 204.89,486.99 206.90,487.72C208.91,488.45 211.28,490.02 213.47,491.22C215.66,492.42 217.85,493.85 220.04,494.94C222.23,496.03 224.06,497.06 226.61,497.79C229.16,498.52 232.08,499.10 235.36,499.32C238.64,499.54 243.03,499.28 246.31,499.10C249.59,498.92 251.78,498.56 255.07,498.23C258.36,497.90 262.74,497.20 266.02,497.13C269.30,497.06 271.86,497.61 274.78,497.79C277.70,497.97 280.25,498.27 283.54,498.23C286.83,498.19 290.48,497.86 294.49,497.57C298.50,497.28 303.25,496.84 307.63,496.47C312.01,496.11 316.83,495.71 320.77,495.38C324.71,495.05 329.19,494.65 331.28,494.50C333.37,494.35 332.96,494.50 333.30,494.50" fill="none" stroke="#1f77b4" stroke-width="1.5" stroke-linejoin="round" stroke-linecap="square" clip-path="url(#cc2)"/>
<rect x="43.30" y="465.00" width="289.00" height="38.30" fill="none" stroke="#262626" stroke-width="0.9"/>
<path d="M43.30,503.30v3.5M101.10,503.30v3.5M158.90,503.30v3.5M216.70,503.30v3.5M274.50,503.30v3.5M332.30,503.30v3.5M39.80,474.40h3.5M39.80,500.30h3.5" stroke="#262626" stroke-width="0.9" fill="none"/>
<clipPath id="cc3"><rect x="43.30" y="518.50" width="289.00" height="37.80"/></clipPath>
<path d="M42.30,551.66C42.48,551.66 41.01,551.66 43.38,551.66C45.75,551.66 51.78,551.66 56.52,551.66C61.27,551.66 67.47,551.69 71.85,551.66C76.23,551.62 80.06,551.45 82.80,551.45C85.54,551.45 86.63,551.40 88.27,551.66C89.91,551.91 91.19,552.58 92.65,552.98C94.11,553.38 95.57,554.00 97.03,554.07C98.49,554.14 99.95,554.19 101.41,553.42C102.87,552.65 104.33,550.75 105.79,549.47C107.25,548.19 108.71,546.74 110.17,545.75C111.63,544.76 112.91,544.00 114.55,543.56C116.19,543.12 118.19,543.30 120.02,543.12C121.84,542.94 123.67,542.94 125.50,542.47C127.33,542.00 129.15,541.19 130.97,540.28C132.79,539.37 134.62,538.27 136.45,536.99C138.27,535.71 140.28,534.18 141.92,532.61C143.56,531.04 144.84,529.15 146.30,527.58C147.76,526.01 149.22,524.37 150.68,523.20C152.14,522.03 153.42,521.16 155.06,520.57C156.70,519.99 158.34,519.87 160.53,519.69C162.72,519.51 165.83,519.47 168.20,519.47C170.57,519.47 172.58,519.54 174.77,519.69C176.96,519.84 179.63,520.28 181.34,520.35C183.05,520.42 182.93,519.98 185.00,520.13C187.07,520.28 190.47,520.83 193.76,521.23C197.04,521.63 201.43,522.28 204.71,522.54C208.00,522.79 210.19,522.72 213.47,522.76C216.75,522.80 221.13,522.61 224.42,522.76C227.70,522.91 229.90,523.27 233.18,523.64C236.46,524.00 240.47,524.66 244.12,524.95C247.77,525.24 251.06,525.35 255.07,525.39C259.08,525.43 263.83,525.28 268.21,525.17C272.59,525.06 276.97,524.88 281.35,524.73C285.73,524.58 290.11,524.44 294.49,524.29C298.87,524.14 303.25,524.00 307.63,523.85C312.01,523.71 316.83,523.56 320.77,523.42C324.71,523.27 329.19,523.05 331.28,522.98C333.37,522.91 332.96,522.98 333.30,522.98" fill="none" stroke="#1f77b4" stroke-width="1.5" stroke-linejoin="round" stroke-linecap="square" clip-path="url(#cc3)"/>
<rect x="43.30" y="518.50" width="289.00" height="37.80" fill="none" stroke="#262626" stroke-width="0.9"/>
<path d="M43.30,556.30v3.5M101.10,556.30v3.5M158.90,556.30v3.5M216.70,556.30v3.5M274.50,556.30v3.5M332.30,556.30v3.5M39.80,529.00h3.5M39.80,551.80h3.5" stroke="#262626" stroke-width="0.9" fill="none"/>
<clipPath id="cc4"><rect x="43.30" y="572.00" width="289.00" height="37.50"/></clipPath>
<path d="M42.30,606.10C42.48,606.10 40.28,606.10 43.38,606.10C46.48,606.10 54.33,606.10 60.90,606.10C67.47,606.10 75.50,606.10 82.80,606.10C90.10,606.10 97.39,606.10 104.69,606.10C111.99,606.10 121.48,606.10 126.59,606.10C131.70,606.10 132.79,605.95 135.35,606.10C137.91,606.25 139.91,606.72 141.92,606.98C143.93,607.24 145.56,607.57 147.39,607.64C149.21,607.71 151.05,607.42 152.87,607.42C154.69,607.42 156.88,607.93 158.34,607.64C159.80,607.35 160.53,606.97 161.63,605.66C162.72,604.35 163.81,602.19 164.91,599.75C166.00,597.31 167.10,594.09 168.20,590.99C169.29,587.89 170.38,583.80 171.48,581.14C172.57,578.48 173.68,576.40 174.77,575.01C175.87,573.62 177.03,573.26 178.05,572.82C179.07,572.38 179.77,572.09 180.90,572.38C182.03,572.67 183.22,573.48 184.81,574.57C186.41,575.67 188.61,577.49 190.47,578.95C192.33,580.41 193.94,582.12 195.95,583.33C197.96,584.54 199.97,585.45 202.52,586.18C205.08,586.91 207.63,587.31 211.28,587.71C214.93,588.11 219.68,588.36 224.42,588.58C229.16,588.80 234.63,588.95 239.74,589.02C244.85,589.09 249.59,589.06 255.07,589.02C260.54,588.98 267.11,588.80 272.59,588.80C278.06,588.80 283.18,589.13 287.92,589.02C292.67,588.91 296.68,588.48 301.06,588.15C305.44,587.82 310.19,587.38 314.20,587.05C318.21,586.72 322.30,586.32 325.15,586.18C328.00,586.03 329.92,586.18 331.28,586.18C332.64,586.18 332.96,586.18 333.30,586.18" fill="none" stroke="#1f77b4" stroke-width="1.5" stroke-linejoin="round" stroke-linecap="square" clip-path="url(#cc4)"/>
<rect x="43.30" y="572.00" width="289.00" height="37.50" fill="none" stroke="#262626" stroke-width="0.9"/>
<path d="M43.30,609.50v3.5M101.10,609.50v3.5M158.90,609.50v3.5M216.70,609.50v3.5M274.50,609.50v3.5M332.30,609.50v3.5M39.80,579.10h3.5M39.80,606.10h3.5" stroke="#262626" stroke-width="0.9" fill="none"/>
<clipPath id="cc5"><rect x="43.30" y="624.60" width="289.00" height="38.80"/></clipPath>
<path d="M42.30,658.54C42.48,658.54 40.28,658.54 43.38,658.54C46.48,658.54 54.33,658.54 60.90,658.54C67.47,658.54 75.50,658.54 82.80,658.54C90.10,658.54 97.39,658.54 104.69,658.54C111.99,658.54 121.48,658.58 126.59,658.54C131.70,658.50 132.79,658.39 135.35,658.32C137.91,658.25 139.91,658.03 141.92,658.10C143.93,658.17 145.56,658.47 147.39,658.76C149.21,659.05 151.05,659.70 152.87,659.85C154.69,660.00 156.70,659.60 158.34,659.64C159.98,659.68 161.44,659.93 162.72,660.07C164.00,660.22 164.91,660.80 166.01,660.51C167.10,660.22 168.19,659.78 169.29,658.32C170.38,656.86 171.49,654.49 172.58,651.75C173.68,649.01 174.77,645.00 175.86,641.90C176.96,638.80 178.06,635.51 179.15,633.14C180.25,630.77 181.46,628.87 182.43,627.66C183.41,626.45 184.03,626.09 185.00,625.91C185.97,625.73 186.82,625.55 188.28,626.57C189.74,627.59 191.75,630.29 193.76,632.04C195.77,633.79 198.14,635.73 200.33,637.08C202.52,638.43 203.98,639.24 206.90,640.15C209.82,641.06 214.20,641.93 217.85,642.55C221.50,643.17 224.79,643.61 228.80,643.87C232.81,644.13 237.19,644.09 241.93,644.09C246.67,644.09 252.15,643.94 257.26,643.87C262.37,643.80 267.84,643.72 272.59,643.65C277.33,643.58 281.35,643.54 285.73,643.43C290.11,643.32 294.49,643.25 298.87,642.99C303.25,642.74 308.00,642.19 312.01,641.90C316.02,641.61 319.75,641.42 322.96,641.24C326.17,641.06 329.56,640.87 331.28,640.80C333.00,640.73 332.96,640.80 333.30,640.80" fill="none" stroke="#1f77b4" stroke-width="1.5" stroke-linejoin="round" stroke-linecap="square" clip-path="url(#cc5)"/>
<rect x="43.30" y="624.60" width="289.00" height="38.80" fill="none" stroke="#262626" stroke-width="0.9"/>
<path d="M43.30,663.40v3.5M101.10,663.40v3.5M158.90,663.40v3.5M216.70,663.40v3.5M274.50,663.40v3.5M332.30,663.40v3.5M39.80,640.40h3.5M39.80,659.00h3.5" stroke="#262626" stroke-width="0.9" fill="none"/>
<clipPath id="cd0"><rect x="385.60" y="358.00" width="293.80" height="35.50"/></clipPath>
<path d="M384.60,383.78C384.73,383.78 383.43,383.82 385.38,383.78C387.33,383.74 392.31,383.70 396.33,383.56C400.34,383.42 405.82,383.02 409.47,382.91C413.12,382.80 415.68,382.80 418.23,382.91C420.79,383.02 422.98,383.42 424.80,383.56C426.62,383.70 427.72,384.07 429.18,383.78C430.64,383.49 432.09,382.65 433.55,381.81C435.01,380.97 436.47,379.54 437.93,378.74C439.39,377.94 440.85,377.39 442.31,376.99C443.77,376.59 445.23,376.81 446.69,376.34C448.15,375.87 449.61,375.32 451.07,374.15C452.53,372.98 453.99,371.05 455.45,369.33C456.91,367.61 458.37,365.42 459.83,363.85C461.29,362.28 462.75,360.82 464.21,359.91C465.67,359.00 467.13,358.45 468.59,358.38C470.05,358.31 471.51,358.92 472.97,359.47C474.43,360.02 475.89,360.97 477.35,361.66C478.81,362.36 480.09,363.20 481.73,363.64C483.37,364.08 485.01,364.22 487.20,364.29C489.39,364.36 492.13,364.11 494.87,364.07C497.61,364.03 501.07,364.07 503.63,364.07C506.19,364.07 507.64,364.21 510.20,364.07C512.75,363.93 516.41,363.31 518.96,363.20C521.51,363.09 523.69,363.31 525.53,363.42C527.37,363.53 527.07,363.89 530.00,363.85C532.93,363.81 539.12,363.16 543.14,363.20C547.15,363.24 550.44,363.70 554.09,364.07C557.74,364.44 561.02,365.21 565.04,365.39C569.05,365.57 574.17,365.13 578.18,365.17C582.19,365.21 585.47,365.61 589.12,365.61C592.77,365.61 596.42,365.03 600.07,365.17C603.72,365.31 607.37,366.26 611.02,366.48C614.67,366.70 618.32,366.41 621.97,366.48C625.62,366.55 629.27,366.88 632.92,366.92C636.57,366.96 640.22,366.63 643.87,366.70C647.52,366.77 651.17,367.21 654.82,367.36C658.47,367.51 662.12,367.44 665.77,367.58C669.42,367.72 674.28,368.12 676.72,368.23C679.16,368.34 679.79,368.23 680.40,368.23" fill="none" stroke="#1f77b4" stroke-width="1.5" stroke-linejoin="round" stroke-linecap="square" clip-path="url(#cd0)"/>
<rect x="385.60" y="358.00" width="293.80" height="35.50" fill="none" stroke="#262626" stroke-width="0.9"/>
<path d="M385.60,393.50v3.5M444.36,393.50v3.5M503.12,393.50v3.5M561.88,393.50v3.5M620.64,393.50v3.5M679.40,393.50v3.5M382.10,372.60h3.5M382.10,387.20h3.5" stroke="#262626" stroke-width="0.9" fill="none"/>
<clipPath id="cd1"><rect x="385.60" y="411.60" width="293.80" height="36.70"/></clipPath>
<path d="M384.60,432.84C384.73,432.84 383.79,432.95 385.38,432.84C386.97,432.73 391.58,432.55 394.14,432.18C396.69,431.81 398.52,431.31 400.71,430.65C402.90,429.99 405.09,429.26 407.28,428.24C409.47,427.22 411.84,425.65 413.85,424.52C415.86,423.39 417.50,422.18 419.32,421.45C421.14,420.72 422.98,420.47 424.80,420.14C426.62,419.81 428.45,419.92 430.27,419.48C432.09,419.04 434.10,418.13 435.74,417.51C437.38,416.89 438.66,415.98 440.12,415.76C441.58,415.54 443.04,416.02 444.50,416.20C445.96,416.38 447.42,417.00 448.88,416.85C450.34,416.70 451.80,415.87 453.26,415.32C454.72,414.77 456.36,413.97 457.64,413.57C458.92,413.17 459.65,412.91 460.93,412.91C462.21,412.91 463.85,413.24 465.31,413.57C466.77,413.90 467.68,414.59 469.69,414.88C471.70,415.17 474.61,415.10 477.35,415.32C480.09,415.54 483.19,416.02 486.11,416.20C489.03,416.38 491.95,416.28 494.87,416.42C497.79,416.56 500.71,416.85 503.63,417.07C506.55,417.29 509.47,417.55 512.39,417.73C515.31,417.91 518.21,418.10 521.15,418.17C524.09,418.24 526.70,418.06 530.00,418.17C533.30,418.28 537.30,418.60 540.95,418.82C544.60,419.04 548.25,419.22 551.90,419.48C555.55,419.74 559.20,420.11 562.85,420.36C566.50,420.62 569.79,420.75 573.80,421.01C577.81,421.26 582.92,421.56 586.93,421.89C590.94,422.22 594.23,422.81 597.88,422.99C601.53,423.17 604.82,422.88 608.83,422.99C612.85,423.10 617.59,423.35 621.97,423.64C626.35,423.93 630.73,424.48 635.11,424.74C639.49,425.00 643.87,425.07 648.25,425.18C652.63,425.29 656.64,425.17 661.39,425.39C666.13,425.61 673.55,426.31 676.72,426.49C679.89,426.67 679.79,426.49 680.40,426.49" fill="none" stroke="#1f77b4" stroke-width="1.5" stroke-linejoin="round" stroke-linecap="square" clip-path="url(#cd1)"/>
<rect x="385.60" y="411.60" width="293.80" height="36.70" fill="none" stroke="#262626" stroke-width="0.9"/>
<path d="M385.60,448.30v3.5M444.36,448.30v3.5M503.12,448.30v3.5M561.88,448.30v3.5M620.64,448.30v3.5M679.40,448.30v3.5M382.10,412.30h3.5M382.10,440.00h3.5" stroke="#262626" stroke-width="0.9" fill="none"/>
<clipPath id="cd2"><rect x="385.60" y="466.10" width="293.80" height="35.00"/></clipPath>
<path d="M384.60,496.16C384.73,496.16 383.79,496.20 385.38,496.16C386.97,496.12 391.22,496.09 394.14,495.94C397.06,495.79 399.98,495.64 402.90,495.28C405.82,494.91 409.11,494.26 411.66,493.75C414.22,493.24 416.41,492.69 418.23,492.22C420.06,491.75 421.15,491.75 422.61,490.91C424.07,490.07 425.53,488.53 426.99,487.18C428.45,485.83 429.90,484.08 431.36,482.80C432.82,481.52 434.10,480.43 435.74,479.52C437.38,478.61 439.40,477.88 441.22,477.33C443.05,476.78 445.05,476.45 446.69,476.23C448.33,476.01 449.43,475.90 451.07,476.01C452.71,476.12 454.73,476.71 456.55,476.89C458.38,477.07 460.01,477.18 462.02,477.11C464.03,477.04 466.58,476.41 468.59,476.45C470.60,476.49 472.43,477.11 474.07,477.33C475.71,477.55 476.81,477.81 478.45,477.77C480.09,477.73 482.28,477.26 483.92,477.11C485.56,476.96 486.84,476.78 488.30,476.89C489.76,477.00 491.22,477.40 492.68,477.77C494.14,478.13 495.60,478.68 497.06,479.08C498.52,479.48 499.98,480.18 501.44,480.18C502.90,480.18 504.36,479.74 505.82,479.08C507.28,478.42 508.74,477.07 510.20,476.23C511.66,475.39 513.30,474.51 514.58,474.04C515.86,473.57 516.58,473.32 517.86,473.39C519.14,473.46 520.96,474.19 522.24,474.48C523.52,474.77 524.24,475.32 525.53,475.14C526.82,474.96 528.34,474.41 530.00,473.39C531.66,472.37 533.64,470.11 535.47,469.01C537.30,467.91 539.12,467.08 540.95,466.82C542.78,466.56 544.60,467.00 546.42,467.47C548.24,467.94 549.89,469.04 551.90,469.66C553.91,470.28 555.91,470.94 558.47,471.20C561.03,471.46 564.31,471.20 567.23,471.20C570.15,471.20 573.25,470.91 575.99,471.20C578.73,471.49 581.10,472.29 583.65,472.95C586.20,473.61 588.94,474.96 591.31,475.14C593.68,475.32 595.33,474.41 597.88,474.04C600.43,473.68 603.54,473.06 606.64,472.95C609.74,472.84 613.58,473.10 616.50,473.39C619.42,473.68 621.79,474.33 624.16,474.70C626.53,475.06 628.17,475.58 630.73,475.58C633.29,475.58 636.57,474.96 639.49,474.70C642.41,474.44 645.33,474.22 648.25,474.04C651.17,473.86 654.09,473.54 657.01,473.61C659.93,473.68 663.21,474.08 665.77,474.48C668.33,474.88 670.51,475.72 672.34,476.01C674.17,476.30 675.38,476.19 676.72,476.23C678.06,476.27 679.79,476.23 680.40,476.23" fill="none" stroke="#1f77b4" stroke-width="1.5" stroke-linejoin="round" stroke-linecap="square" clip-path="url(#cd2)"/>
<rect x="385.60" y="466.10" width="293.80" height="35.00" fill="none" stroke="#262626" stroke-width="0.9"/>
<path d="M385.60,501.10v3.5M444.36,501.10v3.5M503.12,501.10v3.5M561.88,501.10v3.5M620.64,501.10v3.5M679.40,501.10v3.5M382.10,474.50h3.5M382.10,492.40h3.5" stroke="#262626" stroke-width="0.9" fill="none"/>
<clipPath id="cd3"><rect x="385.60" y="519.00" width="293.80" height="36.60"/></clipPath>
<path d="M384.60,546.97C384.73,546.97 383.06,547.12 385.38,546.97C387.70,546.82 393.77,546.38 398.52,546.09C403.26,545.80 408.74,545.48 413.85,545.22C418.96,544.97 424.80,544.78 429.18,544.56C433.56,544.34 437.57,544.09 440.12,543.91C442.67,543.73 443.04,543.98 444.50,543.47C445.96,542.96 447.42,542.30 448.88,540.84C450.34,539.38 451.80,537.01 453.26,534.71C454.72,532.41 456.18,529.23 457.64,527.04C459.10,524.85 460.63,522.77 462.02,521.57C463.41,520.37 464.68,519.89 465.96,519.82C467.24,519.75 468.52,520.55 469.69,521.13C470.86,521.71 471.69,522.70 472.97,523.32C474.25,523.94 475.89,524.67 477.35,524.85C478.81,525.03 480.09,524.60 481.73,524.42C483.37,524.24 485.38,523.80 487.20,523.76C489.02,523.72 490.31,524.09 492.68,524.20C495.05,524.31 498.52,524.38 501.44,524.42C504.36,524.46 507.64,524.35 510.20,524.42C512.75,524.49 514.58,524.67 516.77,524.85C518.96,525.03 521.13,525.40 523.34,525.51C525.55,525.62 527.79,525.55 530.00,525.51C532.21,525.47 534.02,525.14 536.57,525.29C539.12,525.44 542.41,526.39 545.33,526.39C548.25,526.39 551.17,525.22 554.09,525.29C557.01,525.36 559.20,526.35 562.85,526.82C566.50,527.30 571.98,527.85 575.99,528.14C580.00,528.43 582.92,528.44 586.93,528.58C590.94,528.73 596.06,528.75 600.07,529.01C604.09,529.26 607.00,530.00 611.02,530.11C615.03,530.22 619.78,529.52 624.16,529.67C628.54,529.82 632.92,530.77 637.30,530.99C641.68,531.21 646.06,530.92 650.44,530.99C654.82,531.06 659.20,531.24 663.58,531.42C667.96,531.60 673.92,531.97 676.72,532.08C679.52,532.19 679.79,532.08 680.40,532.08" fill="none" stroke="#1f77b4" stroke-width="1.5" stroke-linejoin="round" stroke-linecap="square" clip-path="url(#cd3)"/>
<rect x="385.60" y="519.00" width="293.80" height="36.60" fill="none" stroke="#262626" stroke-width="0.9"/>
<path d="M385.60,555.60v3.5M444.36,555.60v3.5M503.12,555.60v3.5M561.88,555.60v3.5M620.64,555.60v3.5M679.40,555.60v3.5M382.10,519.00h3.5M382.10,550.80h3.5" stroke="#262626" stroke-width="0.9" fill="none"/>
<clipPath id="cd4"><rect x="385.60" y="573.80" width="293.80" height="34.70"/></clipPath>
<path d="M384.60,605.57C384.73,605.57 382.33,605.64 385.38,605.57C388.43,605.50 396.33,605.31 402.90,605.13C409.47,604.95 417.50,604.65 424.80,604.47C432.10,604.29 439.39,604.18 446.69,604.04C453.99,603.89 463.48,603.71 468.59,603.60C473.70,603.49 474.98,603.45 477.35,603.38C479.72,603.31 481.00,603.05 482.82,603.16C484.64,603.27 486.48,603.78 488.30,604.04C490.12,604.29 491.94,604.69 493.77,604.69C495.59,604.69 497.43,604.51 499.25,604.04C501.07,603.57 503.08,602.65 504.72,601.85C506.36,601.05 507.64,600.06 509.10,599.22C510.56,598.38 512.02,597.39 513.48,596.81C514.94,596.23 516.40,595.79 517.86,595.72C519.32,595.65 520.78,596.30 522.24,596.37C523.70,596.44 525.33,596.33 526.62,596.15C527.91,595.97 528.71,596.34 530.00,595.28C531.29,594.22 532.92,591.62 534.38,589.80C535.84,587.97 537.30,585.72 538.76,584.33C540.22,582.94 541.68,581.92 543.14,581.48C544.60,581.04 546.06,581.59 547.52,581.70C548.98,581.81 550.44,582.50 551.90,582.14C553.36,581.77 554.82,580.53 556.28,579.51C557.74,578.49 559.20,576.92 560.66,576.01C562.12,575.10 563.58,574.22 565.04,574.04C566.50,573.86 567.78,574.58 569.42,574.91C571.06,575.24 572.70,575.97 574.89,576.01C577.08,576.05 579.45,575.39 582.55,575.13C585.65,574.87 589.85,574.54 593.50,574.47C597.15,574.40 600.80,574.58 604.45,574.69C608.10,574.80 611.75,574.95 615.40,575.13C619.05,575.31 622.34,575.72 626.35,575.79C630.37,575.86 635.11,575.50 639.49,575.57C643.87,575.64 648.25,576.01 652.63,576.23C657.01,576.45 661.75,576.81 665.77,576.88C669.78,576.95 674.28,576.70 676.72,576.66C679.16,576.62 679.79,576.66 680.40,576.66" fill="none" stroke="#1f77b4" stroke-width="1.5" stroke-linejoin="round" stroke-linecap="square" clip-path="url(#cd4)"/>
<rect x="385.60" y="573.80" width="293.80" height="34.70" fill="none" stroke="#262626" stroke-width="0.9"/>
<path d="M385.60,608.50v3.5M444.36,608.50v3.5M503.12,608.50v3.5M561.88,608.50v3.5M620.64,608.50v3.5M679.40,608.50v3.5M382.10,581.00h3.5M382.10,599.40h3.5" stroke="#262626" stroke-width="0.9" fill="none"/>
<clipPath id="cd5"><rect x="385.60" y="626.90" width="293.80" height="36.40"/></clipPath>
<path d="M384.60,661.85C384.73,661.85 383.06,661.85 385.38,661.85C387.70,661.85 393.77,661.88 398.52,661.85C403.26,661.82 408.74,661.78 413.85,661.64C418.96,661.50 424.07,661.20 429.18,660.98C434.29,660.76 439.76,660.61 444.50,660.32C449.24,660.03 452.89,659.60 457.64,659.23C462.38,658.87 468.59,658.50 472.97,658.13C477.35,657.76 481.00,657.29 483.92,657.04C486.84,656.78 487.94,656.67 490.49,656.60C493.05,656.53 496.69,656.71 499.25,656.60C501.81,656.49 503.81,656.31 505.82,655.94C507.83,655.58 509.65,655.14 511.29,654.41C512.93,653.68 514.21,652.40 515.67,651.56C517.13,650.72 518.59,649.92 520.05,649.37C521.51,648.82 522.77,648.53 524.43,648.28C526.09,648.02 528.34,647.84 530.00,647.84C531.66,647.84 532.92,648.21 534.38,648.28C535.84,648.35 537.30,648.54 538.76,648.28C540.22,648.02 541.68,647.29 543.14,646.74C544.60,646.19 546.06,645.54 547.52,644.99C548.98,644.44 550.44,644.08 551.90,643.46C553.36,642.84 554.82,642.29 556.28,641.27C557.74,640.25 559.38,638.46 560.66,637.33C561.94,636.20 562.92,635.21 563.94,634.48C564.96,633.75 565.88,633.21 566.79,632.95C567.70,632.70 568.98,632.95 569.42,632.95" fill="none" stroke="#1f77b4" stroke-width="1.5" stroke-linejoin="round" stroke-linecap="square" clip-path="url(#cd5)"/>
<rect x="385.60" y="626.90" width="293.80" height="36.40" fill="none" stroke="#262626" stroke-width="0.9"/>
<path d="M385.60,663.30v3.5M444.36,663.30v3.5M503.12,663.30v3.5M561.88,663.30v3.5M620.64,663.30v3.5M679.40,663.30v3.5M382.10,638.40h3.5M382.10,656.10h3.5" stroke="#262626" stroke-width="0.9" fill="none"/>
<g font-family="&quot;Liberation Sans&quot;, sans-serif" stroke-width="0.28" stroke-linejoin="round">
<text x="15.65" y="32.70" font-size="10.44" textLength="21.31" lengthAdjust="spacingAndGlyphs" fill="#262626" stroke="#262626">0.25</text>
<text x="15.44" y="50.45" font-size="10.44" textLength="21.49" lengthAdjust="spacingAndGlyphs" fill="#262626" stroke="#262626">0.00</text>
<text x="274.98" y="47.50" font-size="12.40" textLength="41.72" lengthAdjust="spacingAndGlyphs" fill="#000" stroke="#000">ISKH01</text>
<text x="15.65" y="81.60" font-size="10.44" textLength="21.31" lengthAdjust="spacingAndGlyphs" fill="#262626" stroke="#262626">0.25</text>
<text x="15.44" y="103.50" font-size="10.44" textLength="21.49" lengthAdjust="spacingAndGlyphs" fill="#262626" stroke="#262626">0.00</text>
<text x="274.96" y="101.25" font-size="12.40" textLength="40.39" lengthAdjust="spacingAndGlyphs" fill="#000" stroke="#000">ISK001</text>
<text x="15.65" y="136.40" font-size="10.44" textLength="21.31" lengthAdjust="spacingAndGlyphs" fill="#262626" stroke="#262626">0.25</text>
<text x="15.44" y="155.00" font-size="10.44" textLength="21.49" lengthAdjust="spacingAndGlyphs" fill="#262626" stroke="#262626">0.00</text>
<text x="274.98" y="155.00" font-size="12.40" textLength="41.64" lengthAdjust="spacingAndGlyphs" fill="#000" stroke="#000">ISKH02</text>
<text x="15.65" y="185.20" font-size="10.44" textLength="21.31" lengthAdjust="spacingAndGlyphs" fill="#262626" stroke="#262626">0.25</text>
<text x="15.44" y="207.50" font-size="10.44" textLength="21.49" lengthAdjust="spacingAndGlyphs" fill="#262626" stroke="#262626">0.00</text>
<text x="274.96" y="208.75" font-size="12.40" textLength="40.48" lengthAdjust="spacingAndGlyphs" fill="#000" stroke="#000">ISK003</text>
<text x="21.92" y="240.60" font-size="10.44" textLength="15.03" lengthAdjust="spacingAndGlyphs" fill="#262626" stroke="#262626">0.5</text>
<text x="21.71" y="262.50" font-size="10.44" textLength="15.22" lengthAdjust="spacingAndGlyphs" fill="#262626" stroke="#262626">0.0</text>
<text x="274.98" y="262.50" font-size="12.40" textLength="41.91" lengthAdjust="spacingAndGlyphs" fill="#000" stroke="#000">ISKH04</text>
<text x="21.92" y="289.50" font-size="10.44" textLength="15.03" lengthAdjust="spacingAndGlyphs" fill="#262626" stroke="#262626">0.5</text>
<text x="21.71" y="315.30" font-size="10.44" textLength="15.22" lengthAdjust="spacingAndGlyphs" fill="#262626" stroke="#262626">0.0</text>
<text x="274.96" y="316.25" font-size="12.40" textLength="40.69" lengthAdjust="spacingAndGlyphs" fill="#000" stroke="#000">ISK006</text>
<text x="41.71" y="335.40" font-size="10.44" textLength="5.77" lengthAdjust="spacingAndGlyphs" fill="#262626" stroke="#262626">0</text>
<text x="95.84" y="335.40" font-size="10.44" textLength="12.05" lengthAdjust="spacingAndGlyphs" fill="#262626" stroke="#262626">10</text>
<text x="153.39" y="335.40" font-size="10.44" textLength="12.13" lengthAdjust="spacingAndGlyphs" fill="#262626" stroke="#262626">20</text>
<text x="211.01" y="335.40" font-size="10.44" textLength="11.96" lengthAdjust="spacingAndGlyphs" fill="#262626" stroke="#262626">30</text>
<text x="268.49" y="335.40" font-size="10.44" textLength="12.07" lengthAdjust="spacingAndGlyphs" fill="#262626" stroke="#262626">40</text>
<text x="325.91" y="335.40" font-size="10.44" textLength="11.97" lengthAdjust="spacingAndGlyphs" fill="#262626" stroke="#262626">50</text>
<text x="167.93" y="350.10" font-size="10.60" textLength="41.09" lengthAdjust="spacingAndGlyphs" fill="#262626" stroke="#262626">Time (s)</text>
<text x="365.52" y="20.10" font-size="10.44" textLength="15.03" lengthAdjust="spacingAndGlyphs" fill="#262626" stroke="#262626">0.5</text>
<text x="365.31" y="44.30" font-size="10.44" textLength="15.22" lengthAdjust="spacingAndGlyphs" fill="#262626" stroke="#262626">0.0</text>
<text x="617.68" y="47.50" font-size="12.40" textLength="41.72" lengthAdjust="spacingAndGlyphs" fill="#000" stroke="#000">ISKH01</text>
<text x="359.25" y="80.60" font-size="10.44" textLength="21.31" lengthAdjust="spacingAndGlyphs" fill="#262626" stroke="#262626">0.25</text>
<text x="359.04" y="97.10" font-size="10.44" textLength="21.49" lengthAdjust="spacingAndGlyphs" fill="#262626" stroke="#262626">0.00</text>
<text x="617.66" y="101.20" font-size="12.40" textLength="40.39" lengthAdjust="spacingAndGlyphs" fill="#000" stroke="#000">ISK001</text>
<text x="365.57" y="139.20" font-size="10.44" textLength="15.06" lengthAdjust="spacingAndGlyphs" fill="#262626" stroke="#262626">0.1</text>
<text x="365.31" y="152.60" font-size="10.44" textLength="15.22" lengthAdjust="spacingAndGlyphs" fill="#262626" stroke="#262626">0.0</text>
<text x="617.68" y="154.90" font-size="12.40" textLength="41.64" lengthAdjust="spacingAndGlyphs" fill="#000" stroke="#000">ISKH02</text>
<text x="365.52" y="187.40" font-size="10.44" textLength="15.03" lengthAdjust="spacingAndGlyphs" fill="#262626" stroke="#262626">0.5</text>
<text x="365.31" y="206.80" font-size="10.44" textLength="15.22" lengthAdjust="spacingAndGlyphs" fill="#262626" stroke="#262626">0.0</text>
<text x="617.66" y="208.60" font-size="12.40" textLength="40.48" lengthAdjust="spacingAndGlyphs" fill="#000" stroke="#000">ISK003</text>
<text x="365.65" y="238.50" font-size="10.44" textLength="14.99" lengthAdjust="spacingAndGlyphs" fill="#262626" stroke="#262626">0.2</text>
<text x="365.31" y="265.10" font-size="10.44" textLength="15.22" lengthAdjust="spacingAndGlyphs" fill="#262626" stroke="#262626">0.0</text>
<text x="617.68" y="262.30" font-size="12.40" textLength="41.91" lengthAdjust="spacingAndGlyphs" fill="#000" stroke="#000">ISKH04</text>
<text x="365.65" y="289.30" font-size="10.44" textLength="14.99" lengthAdjust="spacingAndGlyphs" fill="#262626" stroke="#262626">0.2</text>
<text x="365.31" y="307.20" font-size="10.44" textLength="15.22" lengthAdjust="spacingAndGlyphs" fill="#262626" stroke="#262626">0.0</text>
<text x="617.66" y="316.00" font-size="12.40" textLength="40.69" lengthAdjust="spacingAndGlyphs" fill="#000" stroke="#000">ISK006</text>
<text x="384.81" y="335.60" font-size="10.44" textLength="5.77" lengthAdjust="spacingAndGlyphs" fill="#262626" stroke="#262626">0</text>
<text x="438.92" y="335.60" font-size="10.44" textLength="12.05" lengthAdjust="spacingAndGlyphs" fill="#262626" stroke="#262626">10</text>
<text x="496.45" y="335.60" font-size="10.44" textLength="12.13" lengthAdjust="spacingAndGlyphs" fill="#262626" stroke="#262626">20</text>
<text x="554.05" y="335.60" font-size="10.44" textLength="11.96" lengthAdjust="spacingAndGlyphs" fill="#262626" stroke="#262626">30</text>
<text x="611.51" y="335.60" font-size="10.44" textLength="12.07" lengthAdjust="spacingAndGlyphs" fill="#262626" stroke="#262626">40</text>
<text x="668.91" y="335.60" font-size="10.44" textLength="11.97" lengthAdjust="spacingAndGlyphs" fill="#262626" stroke="#262626">50</text>
<text x="510.98" y="349.60" font-size="10.60" textLength="41.09" lengthAdjust="spacingAndGlyphs" fill="#262626" stroke="#262626">Time (s)</text>
<text x="30.94" y="365.00" font-size="10.44" textLength="5.57" lengthAdjust="spacingAndGlyphs" fill="#262626" stroke="#262626">2</text>
<text x="30.63" y="398.80" font-size="10.44" textLength="5.77" lengthAdjust="spacingAndGlyphs" fill="#262626" stroke="#262626">0</text>
<text x="276.03" y="392.60" font-size="12.08" textLength="40.65" lengthAdjust="spacingAndGlyphs" fill="#000" stroke="#000">ISKH01</text>
<text x="30.97" y="431.70" font-size="10.44" textLength="5.52" lengthAdjust="spacingAndGlyphs" fill="#262626" stroke="#262626">1</text>
<text x="30.63" y="451.50" font-size="10.44" textLength="5.77" lengthAdjust="spacingAndGlyphs" fill="#262626" stroke="#262626">0</text>
<text x="277.33" y="445.75" font-size="12.08" textLength="39.36" lengthAdjust="spacingAndGlyphs" fill="#000" stroke="#000">ISK001</text>
<text x="21.42" y="478.20" font-size="10.44" textLength="15.03" lengthAdjust="spacingAndGlyphs" fill="#262626" stroke="#262626">0.5</text>
<text x="21.21" y="504.10" font-size="10.44" textLength="15.22" lengthAdjust="spacingAndGlyphs" fill="#262626" stroke="#262626">0.0</text>
<text x="276.12" y="498.90" font-size="12.08" textLength="40.57" lengthAdjust="spacingAndGlyphs" fill="#000" stroke="#000">ISKH02</text>
<text x="30.97" y="532.80" font-size="10.44" textLength="5.52" lengthAdjust="spacingAndGlyphs" fill="#262626" stroke="#262626">1</text>
<text x="30.63" y="555.60" font-size="10.44" textLength="5.77" lengthAdjust="spacingAndGlyphs" fill="#262626" stroke="#262626">0</text>
<text x="277.19" y="552.05" font-size="12.08" textLength="39.44" lengthAdjust="spacingAndGlyphs" fill="#000" stroke="#000">ISK003</text>
<text x="30.97" y="582.90" font-size="10.44" textLength="5.52" lengthAdjust="spacingAndGlyphs" fill="#262626" stroke="#262626">1</text>
<text x="30.63" y="609.90" font-size="10.44" textLength="5.77" lengthAdjust="spacingAndGlyphs" fill="#262626" stroke="#262626">0</text>
<text x="275.61" y="605.20" font-size="12.08" textLength="40.83" lengthAdjust="spacingAndGlyphs" fill="#000" stroke="#000">ISKH04</text>
<text x="21.42" y="644.20" font-size="10.44" textLength="15.03" lengthAdjust="spacingAndGlyphs" fill="#262626" stroke="#262626">0.5</text>
<text x="21.21" y="662.80" font-size="10.44" textLength="15.22" lengthAdjust="spacingAndGlyphs" fill="#262626" stroke="#262626">0.0</text>
<text x="276.99" y="658.35" font-size="12.08" textLength="39.64" lengthAdjust="spacingAndGlyphs" fill="#000" stroke="#000">ISK006</text>
<text x="40.41" y="678.00" font-size="10.44" textLength="5.77" lengthAdjust="spacingAndGlyphs" fill="#262626" stroke="#262626">0</text>
<text x="94.88" y="678.00" font-size="10.44" textLength="12.05" lengthAdjust="spacingAndGlyphs" fill="#262626" stroke="#262626">10</text>
<text x="152.77" y="678.00" font-size="10.44" textLength="12.13" lengthAdjust="spacingAndGlyphs" fill="#262626" stroke="#262626">20</text>
<text x="210.73" y="678.00" font-size="10.44" textLength="11.96" lengthAdjust="spacingAndGlyphs" fill="#262626" stroke="#262626">30</text>
<text x="268.55" y="678.00" font-size="10.44" textLength="12.07" lengthAdjust="spacingAndGlyphs" fill="#262626" stroke="#262626">40</text>
<text x="326.31" y="678.00" font-size="10.44" textLength="11.97" lengthAdjust="spacingAndGlyphs" fill="#262626" stroke="#262626">50</text>
<text x="167.48" y="691.80" font-size="10.60" textLength="41.09" lengthAdjust="spacingAndGlyphs" fill="#262626" stroke="#262626">Time (s)</text>
<text x="373.57" y="376.55" font-size="10.44" textLength="5.52" lengthAdjust="spacingAndGlyphs" fill="#262626" stroke="#262626">1</text>
<text x="373.23" y="391.15" font-size="10.44" textLength="5.77" lengthAdjust="spacingAndGlyphs" fill="#262626" stroke="#262626">0</text>
<text x="621.40" y="389.90" font-size="12.45" textLength="41.89" lengthAdjust="spacingAndGlyphs" fill="#000" stroke="#000">ISKH01</text>
<text x="363.97" y="416.25" font-size="10.44" textLength="15.08" lengthAdjust="spacingAndGlyphs" fill="#262626" stroke="#262626">2.5</text>
<text x="363.81" y="443.95" font-size="10.44" textLength="15.22" lengthAdjust="spacingAndGlyphs" fill="#262626" stroke="#262626">0.0</text>
<text x="622.74" y="443.65" font-size="12.45" textLength="40.56" lengthAdjust="spacingAndGlyphs" fill="#000" stroke="#000">ISK001</text>
<text x="364.02" y="478.45" font-size="10.44" textLength="15.03" lengthAdjust="spacingAndGlyphs" fill="#262626" stroke="#262626">0.5</text>
<text x="363.81" y="496.35" font-size="10.44" textLength="15.22" lengthAdjust="spacingAndGlyphs" fill="#262626" stroke="#262626">0.0</text>
<text x="621.49" y="497.40" font-size="12.45" textLength="41.82" lengthAdjust="spacingAndGlyphs" fill="#000" stroke="#000">ISKH02</text>
<text x="373.54" y="522.95" font-size="10.44" textLength="5.57" lengthAdjust="spacingAndGlyphs" fill="#262626" stroke="#262626">2</text>
<text x="373.23" y="554.75" font-size="10.44" textLength="5.77" lengthAdjust="spacingAndGlyphs" fill="#262626" stroke="#262626">0</text>
<text x="622.59" y="551.15" font-size="12.45" textLength="40.65" lengthAdjust="spacingAndGlyphs" fill="#000" stroke="#000">ISK003</text>
<text x="364.02" y="584.95" font-size="10.44" textLength="15.03" lengthAdjust="spacingAndGlyphs" fill="#262626" stroke="#262626">0.5</text>
<text x="363.81" y="603.35" font-size="10.44" textLength="15.22" lengthAdjust="spacingAndGlyphs" fill="#262626" stroke="#262626">0.0</text>
<text x="620.97" y="604.90" font-size="12.45" textLength="42.09" lengthAdjust="spacingAndGlyphs" fill="#000" stroke="#000">ISKH04</text>
<text x="364.02" y="642.35" font-size="10.44" textLength="15.03" lengthAdjust="spacingAndGlyphs" fill="#262626" stroke="#262626">0.5</text>
<text x="363.81" y="660.05" font-size="10.44" textLength="15.22" lengthAdjust="spacingAndGlyphs" fill="#262626" stroke="#262626">0.0</text>
<text x="622.39" y="658.65" font-size="12.45" textLength="40.86" lengthAdjust="spacingAndGlyphs" fill="#000" stroke="#000">ISK006</text>
<text x="382.71" y="677.50" font-size="10.44" textLength="5.77" lengthAdjust="spacingAndGlyphs" fill="#262626" stroke="#262626">0</text>
<text x="438.14" y="677.50" font-size="10.44" textLength="12.05" lengthAdjust="spacingAndGlyphs" fill="#262626" stroke="#262626">10</text>
<text x="496.99" y="677.50" font-size="10.44" textLength="12.13" lengthAdjust="spacingAndGlyphs" fill="#262626" stroke="#262626">20</text>
<text x="555.91" y="677.50" font-size="10.44" textLength="11.96" lengthAdjust="spacingAndGlyphs" fill="#262626" stroke="#262626">30</text>
<text x="614.69" y="677.50" font-size="10.44" textLength="12.07" lengthAdjust="spacingAndGlyphs" fill="#262626" stroke="#262626">40</text>
<text x="673.41" y="677.50" font-size="10.44" textLength="11.97" lengthAdjust="spacingAndGlyphs" fill="#262626" stroke="#262626">50</text>
<text x="512.18" y="691.50" font-size="10.60" textLength="41.09" lengthAdjust="spacingAndGlyphs" fill="#262626" stroke="#262626">Time (s)</text>
<text x="-31.19" y="0" font-size="10.60" textLength="62.32" lengthAdjust="spacingAndGlyphs" fill="#262626" stroke="#262626" transform="translate(8.80 88.30) rotate(-90)">UD vel [m/s]</text>
<text x="-31.19" y="0" font-size="10.60" textLength="62.32" lengthAdjust="spacingAndGlyphs" fill="#262626" stroke="#262626" transform="translate(352.00 87.55) rotate(-90)">UD vel [m/s]</text>
<text x="-29.82" y="0" font-size="10.60" textLength="59.57" lengthAdjust="spacingAndGlyphs" fill="#262626" stroke="#262626" transform="translate(24.20 431.35) rotate(-90)">UD disp [m]</text>
<text x="-29.82" y="0" font-size="10.60" textLength="59.57" lengthAdjust="spacingAndGlyphs" fill="#262626" stroke="#262626" transform="translate(356.40 429.75) rotate(-90)">UD disp [m]</text>
<text x="12.77" y="11.30" font-size="14.8" textLength="18.25" lengthAdjust="spacingAndGlyphs" fill="#555">(a)</text>
<text x="359.99" y="11.10" font-size="14.8" textLength="18.03" lengthAdjust="spacingAndGlyphs" fill="#555">(b)</text>
<text x="12.78" y="354.70" font-size="14.8" textLength="17.34" lengthAdjust="spacingAndGlyphs" fill="#555">(c)</text>
<text x="360.41" y="354.60" font-size="14.8" textLength="17.58" lengthAdjust="spacingAndGlyphs" fill="#555">(d)</text>
</g>
<path d="M74.70,15.70 L74.70,53.10 L75.10,69.60 L75.10,106.90 L95.30,123.40 L95.30,160.50 L108.50,177.60 L108.50,214.60 L130.40,231.20 L130.40,267.70 L137.70,285.10 L137.70,321.60" fill="none" stroke="rgba(255,20,20,0.75)" stroke-width="1.15" stroke-dasharray="5.6 2.3"/>
<path d="M110.50,15.70 L110.50,53.10 L112.60,69.60 L112.60,106.90 L137.00,123.40 L137.00,159.70" fill="none" stroke="rgba(250,185,20,0.85)" stroke-width="1.15" stroke-dasharray="5.6 2.3"/>
<path d="M127.20,15.70 L127.20,53.10 L130.50,69.60 L130.50,106.90 L159.30,123.40 L159.30,159.70" fill="none" stroke="rgba(250,185,20,0.85)" stroke-width="1.15" stroke-dasharray="5.6 2.3"/>
<path d="M127.20,177.60 L127.20,214.60 L150.50,231.20 L150.50,267.70 L156.50,285.10 L156.50,321.60" fill="none" stroke="rgba(140,205,60,0.7)" stroke-width="1.15" stroke-dasharray="5.6 2.3"/>
<path d="M147.40,177.60 L147.40,214.60 L170.80,231.20 L170.80,267.70 L177.40,285.10 L177.40,321.60" fill="none" stroke="rgba(140,205,60,0.7)" stroke-width="1.15" stroke-dasharray="5.6 2.3"/>
<path d="M408.40,15.50 L408.40,52.10 L415.30,69.60 L415.30,106.20 L430.50,123.20 L430.50,159.90 L455.60,177.20 L455.60,213.90 L477.80,230.60 L477.80,267.20 L485.00,285.00 L485.00,321.10" fill="none" stroke="rgba(255,20,20,0.75)" stroke-width="1.15" stroke-dasharray="5.6 2.3"/>
<path d="M437.20,15.50 L437.20,52.10 L435.50,69.60 L435.50,106.20 L465.20,123.20 L465.20,159.10" fill="none" stroke="rgba(250,185,20,0.85)" stroke-width="1.15" stroke-dasharray="5.6 2.3"/>
<path d="M456.40,15.50 L456.40,52.10 L455.40,69.60 L455.40,106.20 L485.10,123.20 L485.10,159.10" fill="none" stroke="rgba(250,185,20,0.85)" stroke-width="1.15" stroke-dasharray="5.6 2.3"/>
<path d="M482.90,177.20 L482.90,213.90 L510.20,230.60 L510.20,267.20 L516.10,285.00 L516.10,321.10" fill="none" stroke="rgba(140,205,60,0.7)" stroke-width="1.15" stroke-dasharray="5.6 2.3"/>
<path d="M503.40,177.20 L503.40,213.90 L535.50,230.60 L535.50,267.20 L541.40,285.00 L541.40,321.10" fill="none" stroke="rgba(140,205,60,0.7)" stroke-width="1.15" stroke-dasharray="5.6 2.3"/>
<path d="M526.70,177.20 L526.70,213.90 L558.30,230.60 L558.30,267.20 L564.50,285.00 L564.50,321.10" fill="none" stroke="rgba(140,205,60,0.7)" stroke-width="1.15" stroke-dasharray="5.6 2.3"/>
</svg>
</body></html>
